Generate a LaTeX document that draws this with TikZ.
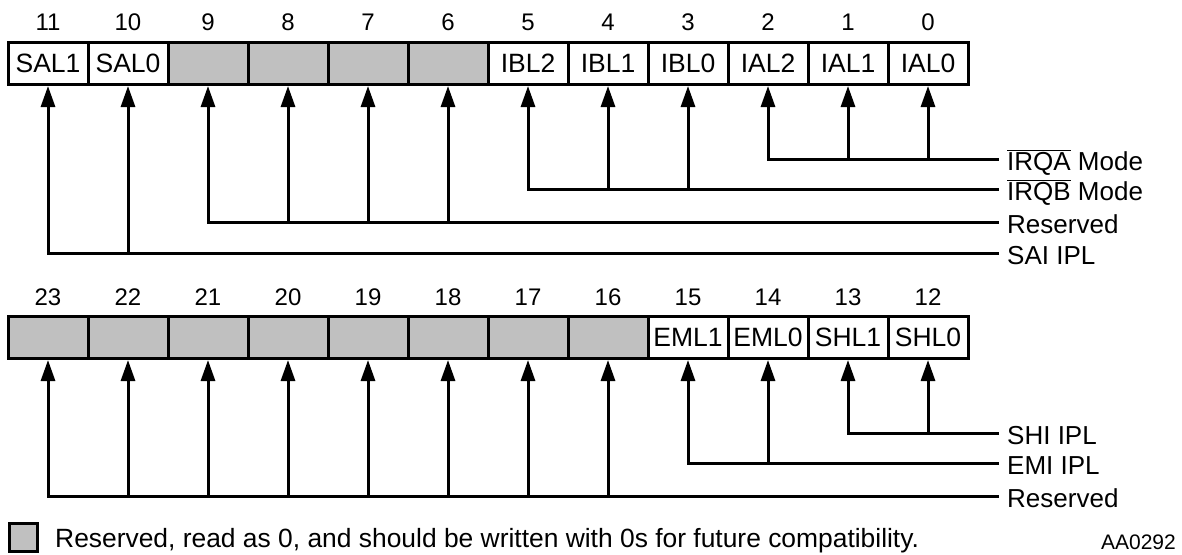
\documentclass[tikz,border=0pt]{standalone}
\usepackage{fontspec}
\setmainfont{Liberation Sans}
\usetikzlibrary{arrows.meta}
\definecolor{resgray}{RGB}{192,192,192}
\begin{document}
\begin{tikzpicture}[x=1pt,y=-1pt,
  cell/.style={draw, line width=3pt, minimum width=80pt, minimum height=42pt, inner sep=0pt,
    font=\fontsize{26.5}{30}\selectfont, text height=18pt, text depth=0pt},
  res/.style={cell, fill=resgray},
  bitnum/.style={anchor=base, inner sep=0pt, font=\fontsize{24}{28}\selectfont},
  wire/.style={line width=3pt},
  tip/.style={{Triangle[width=14pt,length=21pt]}-},
  lab/.style={anchor=west, inner xsep=8pt, inner ysep=0pt, text height=18pt, text depth=0pt,
    yshift=-2pt, font=\fontsize{26}{30}\selectfont}
]
\useasboundingbox (0,0) rectangle (1182,554);
% top register
\foreach \b/\t/\s [count=\k from 0] in {11/SAL1/cell,10/SAL0/cell,9//res,8//res,7//res,6//res,5/IBL2/cell,4/IBL1/cell,3/IBL0/cell,2/IAL2/cell,1/IAL1/cell,0/IAL0/cell}{
  \node[\s] (c\b) at (48+80*\k,63.5) {\t};
  \node[bitnum] (n\b) at (48+80*\k,30) {\b};
}
% bottom register
\foreach \b/\t/\s [count=\k from 0] in {23//res,22//res,21//res,20//res,19//res,18//res,17//res,16//res,15/EML1/cell,14/EML0/cell,13/SHL1/cell,12/SHL0/cell}{
  \node[\s] (c\b) at (48+80*\k,337.5) {\t};
  \node[bitnum] (n\b) at (48+80*\k,305) {\b};
}
% labels
\node[lab] (lA) at (999,159) {$\overline{\hbox{IRQA}}$ Mode};
\node[lab] (lB) at (999,189) {$\overline{\hbox{IRQB}}$ Mode};
\node[lab] (lR1) at (999,222) {Reserved};
\node[lab] (lS) at (999,253) {SAI IPL};
\node[lab] (lH) at (999,433) {SHI IPL};
\node[lab] (lE) at (999,463) {EMI IPL};
\node[lab] (lR2) at (999,496) {Reserved};
% connectors
\draw[wire,tip] (c2.south) -- (c2.south |- 0,159) -- (999,159) coordinate (eA);
\foreach \b in {1,0} \draw[wire,tip] (c\b.south) -- (c\b.south |- eA);
\draw[wire,tip] (c5.south) -- (c5.south |- 0,189) -- (999,189) coordinate (eB);
\foreach \b in {4,3} \draw[wire,tip] (c\b.south) -- (c\b.south |- eB);
\draw[wire,tip] (c9.south) -- (c9.south |- 0,222) -- (999,222) coordinate (eR1);
\foreach \b in {8,7,6} \draw[wire,tip] (c\b.south) -- (c\b.south |- eR1);
\draw[wire,tip] (c11.south) -- (c11.south |- 0,253) -- (999,253) coordinate (eS);
\draw[wire,tip] (c10.south) -- (c10.south |- eS);
\draw[wire,tip] (c13.south) -- (c13.south |- 0,433) -- (999,433) coordinate (eH);
\draw[wire,tip] (c12.south) -- (c12.south |- eH);
\draw[wire,tip] (c15.south) -- (c15.south |- 0,463) -- (999,463) coordinate (eE);
\draw[wire,tip] (c14.south) -- (c14.south |- eE);
\draw[wire,tip] (c23.south) -- (c23.south |- 0,496) -- (999,496) coordinate (eR2);
\foreach \b in {22,21,20,19,18,17,16} \draw[wire,tip] (c\b.south) -- (c\b.south |- eR2);
% legend
\node[draw, line width=3pt, fill=resgray, minimum size=28pt, inner sep=0pt] (key) at (23.5,537) {};
\node[anchor=west, inner sep=0pt, text height=18pt, text depth=0pt, font=\fontsize{26.4}{30}\selectfont] (keytext) at (55,538) {Reserved, read as 0, and should be written with 0s for future compatibility.};
\node[anchor=east, inner sep=0pt, text height=15pt, text depth=0pt, font=\fontsize{21}{24}\selectfont] (fig) at (1176,542) {AA0292};
\end{tikzpicture}
\end{document}
